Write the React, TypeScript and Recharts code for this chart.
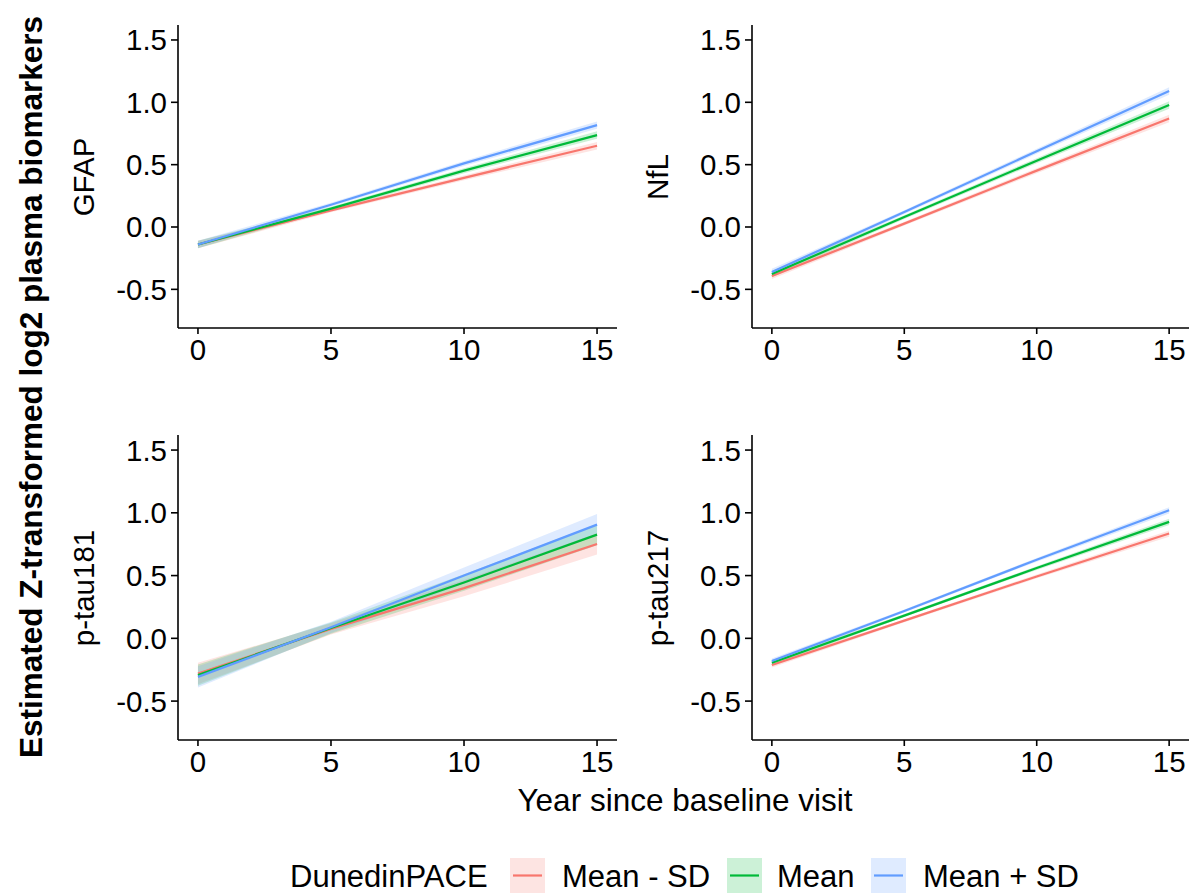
import React from 'react';
import { ComposedChart, Area, Line, XAxis, YAxis } from 'recharts';

const FONT = '"Liberation Sans", Arial, sans-serif';

// shared x values (years since baseline)
const years = [0, 5, 10, 15];
const seriesNames = ['Mean - SD', 'Mean', 'Mean + SD'];
const seriesColors = ['#F8766D', '#00BA38', '#619CFF'];
const keyFills = ['#FDE4E2', '#CCF1D7', '#DFEBFF'];
const yTicks = [-0.5, 0, 0.5, 1, 1.5];
const xTicks = [0, 5, 10, 15];

// GFAP
const gfapLow = [-0.14, 0.133, 0.394, 0.652];
const gfapMean = [-0.14, 0.147, 0.452, 0.737];
const gfapHigh = [-0.14, 0.179, 0.51, 0.817];
const gfapCi = [0.03, 0.015, 0.02, 0.03];

// NfL
const nflLow = [-0.393, 0.027, 0.452, 0.87];
const nflMean = [-0.377, 0.08, 0.532, 0.979];
const nflHigh = [-0.36, 0.12, 0.607, 1.09];
const nflCi = [0.025, 0.015, 0.02, 0.03];

// p-tau181
const pt181Low = [-0.28, 0.075, 0.4, 0.752];
const pt181Mean = [-0.293, 0.082, 0.445, 0.826];
const pt181High = [-0.307, 0.088, 0.5, 0.906];
const pt181Ci = [0.085, 0.045, 0.065, 0.085];

// p-tau217
const pt217Low = [-0.213, 0.141, 0.493, 0.835];
const pt217Mean = [-0.195, 0.181, 0.56, 0.928];
const pt217High = [-0.18, 0.218, 0.626, 1.02];
const pt217Ci = [0.02, 0.012, 0.015, 0.025];

const buildRows = (low: number[], mean: number[], high: number[], ci: number[]) =>
  years.map((year, i) => ({
    year,
    s0: low[i],
    s1: mean[i],
    s2: high[i],
    b0: [low[i] - ci[i], low[i] + ci[i]],
    b1: [mean[i] - ci[i], mean[i] + ci[i]],
    b2: [high[i] - ci[i], high[i] + ci[i]],
  }));

interface PanelProps {
  rows: any[];
  left: number;
  top: number;
  width: number;
  plotHeight: number;
  marginRight: number;
}

const Panel: React.FC<PanelProps> = ({ rows, left, top, width, plotHeight, marginRight }) => {
  const tickStyle = { fill: '#000', fontSize: 29.5, fontFamily: FONT };
  return (
    <div style={{ position: 'absolute', left, top }}>
      <ComposedChart
        width={width}
        height={25 + plotHeight + 55}
        data={rows}
        margin={{ top: 25, right: marginRight, bottom: 0, left: 0 }}
      >
        <XAxis
          dataKey="year"
          type="number"
          domain={[-0.75, 15.75]}
          ticks={xTicks}
          allowDataOverflow
          height={55}
          tick={tickStyle}
          tickSize={6}
          tickMargin={5}
          axisLine={{ stroke: '#000', strokeWidth: 1.6 }}
          tickLine={{ stroke: '#000', strokeWidth: 1.6 }}
        />
        <YAxis
          type="number"
          domain={[-0.81, 1.62]}
          ticks={yTicks}
          allowDataOverflow
          width={178}
          tick={tickStyle}
          tickFormatter={(v: number) => v.toFixed(1)}
          tickSize={7}
          tickMargin={4}
          axisLine={{ stroke: '#000', strokeWidth: 1.6 }}
          tickLine={{ stroke: '#000', strokeWidth: 1.6 }}
        />
        {[0, 1, 2].map((k) => (
          <Area
            key={`band-${k}`}
            type="linear"
            dataKey={`b${k}`}
            stroke="none"
            fill={seriesColors[k]}
            fillOpacity={0.2}
            isAnimationActive={false}
          />
        ))}
        {[0, 1, 2].map((k) => (
          <Line
            key={`line-${k}`}
            type="linear"
            dataKey={`s${k}`}
            stroke={seriesColors[k]}
            strokeWidth={2.2}
            dot={false}
            activeDot={false}
            isAnimationActive={false}
          />
        ))}
      </ComposedChart>
    </div>
  );
};

const App: React.FC = () => {
  const gfapRows = buildRows(gfapLow, gfapMean, gfapHigh, gfapCi);
  const nflRows = buildRows(nflLow, nflMean, nflHigh, nflCi);
  const pt181Rows = buildRows(pt181Low, pt181Mean, pt181High, pt181Ci);
  const pt217Rows = buildRows(pt217Low, pt217Mean, pt217High, pt217Ci);

  const legendX = [
    { key: 510, text: 562 },
    { key: 727, text: 777 },
    { key: 871, text: 923 },
  ];

  return (
    <div
      style={{
        position: 'absolute',
        left: 0,
        top: 0,
        width: 1189,
        height: 893,
        background: '#fff',
        overflow: 'hidden',
        fontFamily: FONT,
      }}
    >
      <Panel rows={gfapRows} left={0} top={0} width={627} plotHeight={303} marginRight={10} />
      <Panel rows={nflRows} left={574} top={0} width={617} plotHeight={303} marginRight={2} />
      <Panel rows={pt181Rows} left={0} top={410} width={627} plotHeight={305} marginRight={10} />
      <Panel rows={pt217Rows} left={574} top={410} width={617} plotHeight={305} marginRight={2} />

      <svg
        width={1189}
        height={893}
        style={{ position: 'absolute', left: 0, top: 0, pointerEvents: 'none' }}
      >
        <text
          transform="translate(31,387) rotate(-90)"
          textAnchor="middle"
          dominantBaseline="central"
          fontFamily={FONT}
          fontWeight="bold"
          fontSize={31.5}
          fill="#000"
        >
          Estimated Z-transformed log2 plasma biomarkers
        </text>
        {[
          { t: 'GFAP', x: 83, y: 177 },
          { t: 'NfL', x: 657, y: 177 },
          { t: 'p-tau181', x: 83, y: 588 },
          { t: 'p-tau217', x: 657, y: 588 },
        ].map((p) => (
          <text
            key={p.t}
            transform={`translate(${p.x},${p.y}) rotate(-90)`}
            textAnchor="middle"
            dominantBaseline="central"
            fontFamily={FONT}
            fontSize={29.5}
            fill="#000"
          >
            {p.t}
          </text>
        ))}
        <text
          x={685}
          y={800}
          textAnchor="middle"
          dominantBaseline="central"
          fontFamily={FONT}
          fontSize={31.5}
          fill="#000"
        >
          Year since baseline visit
        </text>

        <text x={290} y={876} dominantBaseline="central" fontFamily={FONT} fontSize={31} fill="#000">
          DunedinPACE
        </text>
        {seriesNames.map((name, k) => (
          <g key={name}>
            <rect x={legendX[k].key} y={858} width={35} height={35} fill={keyFills[k]} />
            <line
              x1={legendX[k].key + 3}
              x2={legendX[k].key + 32}
              y1={875.5}
              y2={875.5}
              stroke={seriesColors[k]}
              strokeWidth={2.2}
            />
            <text
              x={legendX[k].text}
              y={876}
              dominantBaseline="central"
              fontFamily={FONT}
              fontSize={31}
              fill="#000"
            >
              {name}
            </text>
          </g>
        ))}
      </svg>
    </div>
  );
};

export default App;
